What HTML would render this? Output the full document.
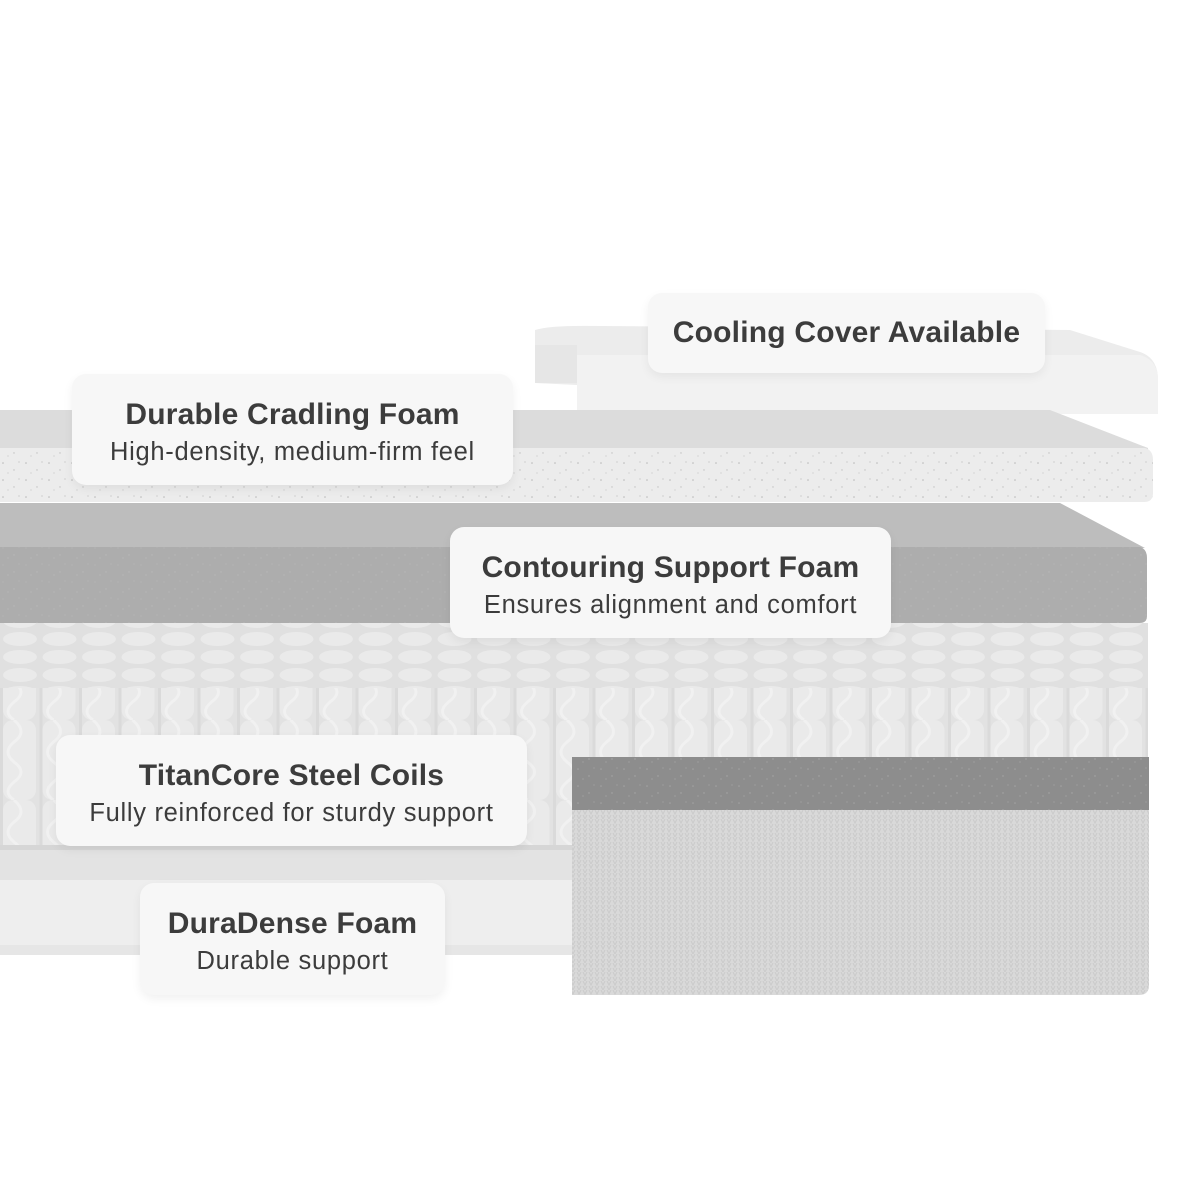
<!DOCTYPE html>
<html><head><meta charset="utf-8"><style>
html,body{margin:0;padding:0;background:#fff;}
.wrap{position:relative;width:1200px;height:1200px;overflow:hidden;font-family:"Liberation Sans",sans-serif;}
.lab{position:absolute;background:#f7f7f7;border-radius:14px;box-shadow:0 4px 10px rgba(0,0,0,0.06);text-align:center;color:#3c3c3c;}
.t{font-weight:bold;font-size:30px;letter-spacing:0.2px;line-height:34px;}
.s{font-size:25.5px;letter-spacing:0.7px;margin-top:5px;line-height:30px;}
</style></head><body><div class="wrap">
<svg width="1200" height="1200" style="position:absolute;left:0;top:0">
<defs>
<pattern id="cols" x="0" y="0" width="39.5" height="80" patternUnits="userSpaceOnUse">
<rect width="39.5" height="80" fill="#e2e2e2"/>
<rect x="3" width="33" height="80" rx="10" fill="#eaeaea"/>
<path d="M14 0 Q28 12 14 22 Q2 32 14 42 Q28 52 14 62 Q2 72 14 80" stroke="#f1f1f1" stroke-width="3" fill="none"/>
<rect x="0" width="3" height="80" fill="#dadada"/>
</pattern>
<pattern id="tops" x="0" y="0" width="39.5" height="18" patternUnits="userSpaceOnUse">
<rect width="39.5" height="18" fill="#e0e0e0"/>
<ellipse cx="20" cy="9" rx="17" ry="7" fill="#eaeaea"/>
</pattern>
<pattern id="spk" width="23" height="17" patternUnits="userSpaceOnUse">
<circle cx="3" cy="4" r="0.8" fill="#b8b8b8"/><circle cx="14" cy="11" r="0.7" fill="#c0c0c0"/><circle cx="19" cy="3" r="0.6" fill="#bcbcbc"/><circle cx="8" cy="14" r="0.6" fill="#c4c4c4"/>
</pattern>
<pattern id="knit" width="6" height="9" patternUnits="userSpaceOnUse">
<rect width="6" height="9" fill="#d9d9d9"/><path d="M1 0 L3 4 L5 0 M1 5 L3 9 L5 5" stroke="#cbcbcb" stroke-width="1" fill="none"/>
</pattern>
</defs>
<path d="M535 330 Q550 325 600 326 L1070 330 L1140 352 Q1158 358 1158 380 L1158 414 L577 414 L577 385 L535 383 Z" fill="#ececec"/>
<rect x="535" y="345" width="42" height="38" fill="#e6e6e6"/>
<path d="M577 355 L1140 355 Q1158 360 1158 380 L1158 414 L577 414 Z" fill="#f2f2f2"/>
<path d="M0 410 L1050 410 L1148 448 L1148 450 L0 450 Z" fill="#dcdcdc"/>
<path d="M0 448 L1145 448 Q1153 450 1153 460 L1153 493 Q1153 502 1144 502 L0 502 Z" fill="#ececec"/>
<path d="M0 448 L1145 448 Q1153 450 1153 460 L1153 493 Q1153 502 1144 502 L0 502 Z" fill="url(#spk)"/>
<path d="M0 503 L1060 503 L1145 548 L0 548 Z" fill="#bdbdbd"/>
<path d="M0 547 L1140 547 Q1147 549 1147 558 L1147 616 Q1147 623 1140 623 L0 623 Z" fill="#adadad"/>
<path d="M0 547 L1140 547 Q1147 549 1147 558 L1147 616 Q1147 623 1140 623 L0 623 Z" fill="url(#spk)" opacity="0.6"/>
<rect x="0" y="623" width="1148" height="72" fill="url(#tops)"/>
<rect x="0" y="688" width="1148" height="160" fill="url(#cols)"/>
<rect x="0" y="845" width="580" height="8" fill="#d6d6d6"/>
<rect x="0" y="850" width="600" height="105" fill="#eeeeee"/>
<rect x="0" y="850" width="600" height="30" fill="#e3e3e3"/>
<rect x="0" y="945" width="600" height="10" fill="#e6e6e6"/>
<path d="M572 757 L1143 757 Q1149 758 1149 765 L1149 985 Q1149 995 1139 995 L572 995 Z" fill="url(#knit)"/>
<rect x="572" y="757" width="577" height="53" fill="#8d8d8d"/>
<rect x="572" y="757" width="577" height="53" fill="url(#spk)" opacity="0.5"/>
</svg>
<div class="lab" style="left:648px;top:293px;width:397px;height:80px;"><div class="t" style="margin-top:23px">Cooling Cover Available</div></div>
<div class="lab" style="left:72px;top:374px;width:441px;height:111px;"><div class="t" style="margin-top:24px">Durable Cradling Foam</div><div class="s">High-density, medium-firm feel</div></div>
<div class="lab" style="left:450px;top:527px;width:441px;height:111px;"><div class="t" style="margin-top:24px">Contouring Support Foam</div><div class="s">Ensures alignment and comfort</div></div>
<div class="lab" style="left:56px;top:735px;width:471px;height:111px;"><div class="t" style="margin-top:24px">TitanCore Steel Coils</div><div class="s">Fully reinforced for sturdy support</div></div>
<div class="lab" style="left:140px;top:883px;width:305px;height:112px;"><div class="t" style="margin-top:24px">DuraDense Foam</div><div class="s">Durable support</div></div>
</div></body></html>
